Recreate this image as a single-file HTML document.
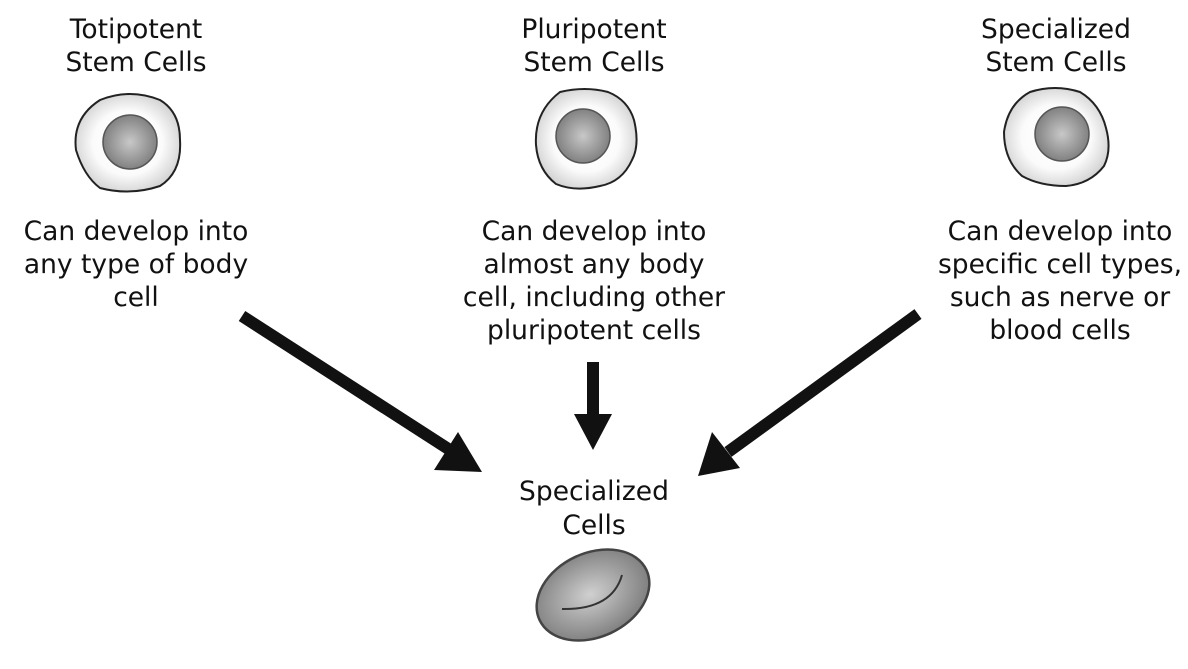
<!DOCTYPE html>
<html><head><meta charset="utf-8"><style>
body{margin:0;background:#fff;}
svg text{font-family:"DejaVu Sans","Liberation Sans",sans-serif;font-size:26.5px;fill:#111;text-anchor:middle;}
</style></head><body>
<svg width="1188" height="664" viewBox="0 0 1188 664">
<defs>
<radialGradient id="cyto" cx="50%" cy="50%" r="55%"><stop offset="0" stop-color="#fff"/><stop offset="0.6" stop-color="#fbfbfb"/><stop offset="1" stop-color="#cfcfcf"/></radialGradient>
<radialGradient id="nuc" cx="50%" cy="50%" r="55%"><stop offset="0" stop-color="#c8c8c8"/><stop offset="1" stop-color="#7a7a7a"/></radialGradient>
<radialGradient id="spec" cx="48%" cy="48%" r="55%"><stop offset="0" stop-color="#d0d0d0"/><stop offset="1" stop-color="#7c7c7c"/></radialGradient>
</defs>

<g>
<text x="136" y="38">Totipotent</text>
<text x="136" y="71">Stem Cells</text>
<path d="M100,100 Q130,88 160,100 Q180,112 180,140 Q182,172 160,186 Q130,196 100,188 Q84,176 76,150 Q72,118 100,100 Z" fill="url(#cyto)" stroke="#222" stroke-width="2"/>
<circle cx="130" cy="142" r="27" fill="url(#nuc)" stroke="#555" stroke-width="1.5"/>
<text x="136" y="240">Can develop into</text>
<text x="136" y="273">any type of body</text>
<text x="136" y="306">cell</text>
</g>

<g>
<text x="594" y="38">Pluripotent</text>
<text x="594" y="71">Stem Cells</text>
<path d="M560,92 Q585,86 608,92 Q628,100 634,120 Q640,145 632,160 Q622,182 600,186 Q575,192 556,184 Q538,170 536,145 Q534,112 560,92 Z" fill="url(#cyto)" stroke="#222" stroke-width="2"/>
<circle cx="583" cy="136" r="27" fill="url(#nuc)" stroke="#555" stroke-width="1.5"/>
<text x="594" y="240">Can develop into</text>
<text x="594" y="273">almost any body</text>
<text x="594" y="306">cell, including other</text>
<text x="594" y="339">pluripotent cells</text>
</g>

<g>
<text x="1056" y="38">Specialized</text>
<text x="1056" y="71">Stem Cells</text>
<path d="M1030,92 Q1055,84 1080,92 Q1100,104 1106,128 Q1112,150 1104,166 Q1090,184 1066,186 Q1040,186 1022,176 Q1004,160 1004,132 Q1008,104 1030,92 Z" fill="url(#cyto)" stroke="#222" stroke-width="2"/>
<circle cx="1062" cy="134" r="27" fill="url(#nuc)" stroke="#555" stroke-width="1.5"/>
<text x="1060" y="240">Can develop into</text>
<text x="1060" y="273">specific cell types,</text>
<text x="1060" y="306">such as nerve or</text>
<text x="1060" y="339">blood cells</text>
</g>

<g fill="#111">
<g>
<line x1="242" y1="316" x2="450" y2="450" stroke="#111" stroke-width="12"/>
<polygon points="482,472 434,470 458,432"/>
</g>
<g>
<rect x="587" y="362" width="12" height="56"/>
<polygon points="574,414 612,414 593,450"/>
</g>
<g>
<line x1="918" y1="314" x2="728" y2="452" stroke="#111" stroke-width="12"/>
<polygon points="698,476 712,432 740,468"/>
</g>
</g>

<g>
<text x="594" y="500">Specialized</text>
<text x="594" y="534">Cells</text>
<ellipse cx="593" cy="595" rx="59" ry="42" transform="rotate(-25 593 595)" fill="url(#spec)" stroke="#444" stroke-width="2.5"/>
<path d="M562,609 Q612,610 622,575" fill="none" stroke="#333" stroke-width="2"/>
</g>
</svg>
</body></html>
